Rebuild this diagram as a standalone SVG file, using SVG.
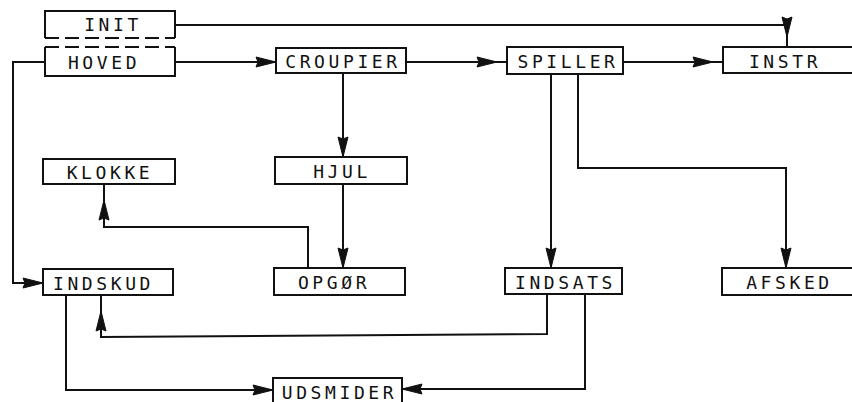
<svg xmlns="http://www.w3.org/2000/svg" width="852" height="402" viewBox="0 0 852 402">
<style>
.bx{fill:none;stroke:#111;stroke-width:2}
.ds{fill:none;stroke:#111;stroke-width:2;stroke-dasharray:14,6}
.ln{fill:none;stroke:#111;stroke-width:2}
.ah{fill:#111;stroke:#111;stroke-width:1;stroke-linejoin:round}
.t{font-family:"DejaVu Sans Mono",monospace;font-size:18px;letter-spacing:3.6px;fill:#111;text-anchor:middle}
</style>
<defs>
<marker id="a" markerUnits="userSpaceOnUse" markerWidth="26" markerHeight="14" viewBox="0 0 26 14" refX="21" refY="7" orient="auto"><path class="ah" d="M1,2 L21,7 L1,12 L3,7 z"/></marker>
<marker id="a10" markerUnits="userSpaceOnUse" markerWidth="36" markerHeight="14" viewBox="0 0 36 14" refX="31" refY="7" orient="auto"><path class="ah" d="M1,2 L21,7 L1,12 L3,7 z"/></marker>
<marker id="a16" markerUnits="userSpaceOnUse" markerWidth="42" markerHeight="14" viewBox="0 0 42 14" refX="37" refY="7" orient="auto"><path class="ah" d="M1,2 L21,7 L1,12 L3,7 z"/></marker>
</defs>
<rect width="852" height="402" fill="#fff"/>
<g id="connectors">
<path class="ln" d="M175,25 H787 V47" marker-end="url(#a10)"/>
<path class="ln" d="M175,62 H276" marker-end="url(#a)"/>
<path class="ln" d="M406,62 H507" marker-end="url(#a10)"/>
<path class="ln" d="M623,62 H723" marker-end="url(#a10)"/>
<path class="ln" d="M343,73 V157" marker-end="url(#a)"/>
<path class="ln" d="M343,184 V268" marker-end="url(#a)"/>
<path class="ln" d="M308,268 V227 H104 V184" marker-end="url(#a16)"/>
<path class="ln" d="M45,62 H13 V283 H43" marker-end="url(#a)"/>
<path class="ln" d="M66,295 V390 H273" marker-end="url(#a)"/>
<path class="ln" d="M547,295 V334 L101,337 V295" marker-end="url(#a16)"/>
<path class="ln" d="M585,295 V389 H402" marker-end="url(#a)"/>
<path class="ln" d="M551,74 V268" marker-end="url(#a)"/>
<path class="ln" d="M578,74 V168 H786 V268" marker-end="url(#a)"/>
</g>
<g id="init">
<path class="bx" d="M45,38 V11 H175 V38"/>
<path class="ds" d="M45,38 H175"/>
<text class="t" x="113" y="31">INIT</text>
</g>
<g id="hoved">
<path class="ds" d="M45,47 H175"/>
<path class="bx" d="M45,47 V76 H175 V47"/>
<text class="t" x="104" y="68.5">HOVED</text>
</g>
<g id="croupier">
<rect class="bx" x="276" y="48" width="130" height="25"/>
<text class="t" x="343" y="68">CROUPIER</text>
</g>
<g id="spiller">
<rect class="bx" x="507" y="47" width="116" height="27"/>
<text class="t" x="568" y="68">SPILLER</text>
</g>
<g id="instr">
<rect class="bx" x="723" y="47" width="140" height="26"/>
<text class="t" x="785" y="68">INSTR</text>
</g>
<g id="klokke">
<rect class="bx" x="43" y="159" width="132" height="25"/>
<text class="t" x="110" y="178.5">KLOKKE</text>
</g>
<g id="hjul">
<rect class="bx" x="275" y="157" width="132" height="27"/>
<text class="t" x="342" y="178">HJUL</text>
</g>
<g id="indskud">
<rect class="bx" x="43" y="269" width="130" height="26"/>
<text class="t" x="103.5" y="290">INDSKUD</text>
</g>
<g id="opgor">
<rect class="bx" x="274" y="268" width="131" height="27"/>
<text class="t" x="334" y="289">OPGØR</text>
</g>
<g id="indsats">
<rect class="bx" x="505" y="268" width="117" height="26"/>
<text class="t" x="565.5" y="288.5">INDSATS</text>
</g>
<g id="afsked">
<rect class="bx" x="722" y="268" width="140" height="27"/>
<text class="t" x="789.5" y="288.5">AFSKED</text>
</g>
<g id="udsmider">
<rect class="bx" x="273" y="378" width="129" height="30"/>
<text class="t" x="339.5" y="398.5">UDSMIDER</text>
</g>
</svg>
